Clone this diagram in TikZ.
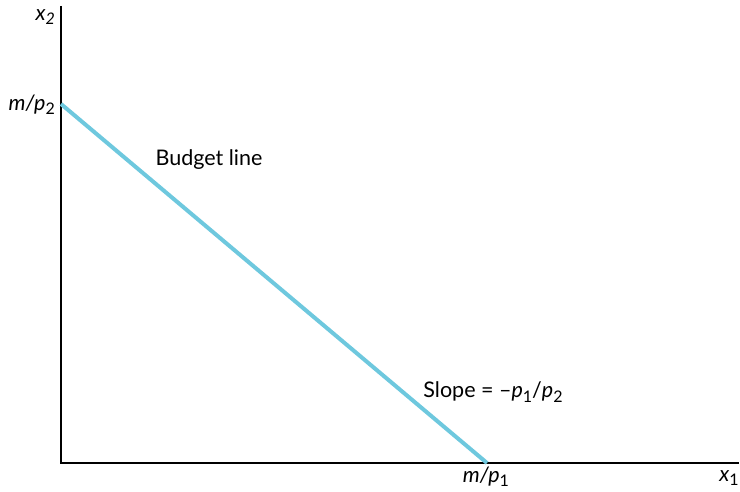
\documentclass[tikz,border=0pt]{standalone}
\usepackage{fontspec}
\setmainfont{Lato}
\definecolor{budget}{RGB}{110,200,222}
\newcommand{\lowsub}[1]{\raisebox{-0.4ex}{\fontsize{16}{16}\selectfont #1}}
\begin{document}
\begin{tikzpicture}[x=1pt,y=-1pt,
  axis/.style={line width=2.8pt, black},
  bline/.style={line width=4pt, budget},
  lbl/.style={font=\fontsize{21.5}{24}\selectfont, inner sep=0pt}]
\useasboundingbox (0,0) rectangle (740,492);
\coordinate (top) at (61,6);
\coordinate (origin) at (61,463);
\coordinate (right) at (739,463);
\coordinate (A) at (61,104);
\coordinate (B) at (487,463);
\draw[axis] (top) -- (origin) -- (right);
\draw[bline] (A) -- (B);
\node[lbl, anchor=east] (x2) at (55,17) {\itshape x\lowsub{2}};
\node[lbl, anchor=east] (mp2) at (55,105) {\itshape m/p\lowsub{\upshape 2}};
\node[lbl] (budgetlbl) at (209,160) {Budget line};
\node[lbl] (slope) at (493,392) {Slope = –{\itshape p}\lowsub{1}/{\itshape p}\lowsub{2}};
\node[lbl] (mp1) at (486,477) {{\itshape m/p}\lowsub{1}};
\node[lbl] (x1) at (729,478) {{\itshape x}\lowsub{1}};
\end{tikzpicture}
\end{document}
